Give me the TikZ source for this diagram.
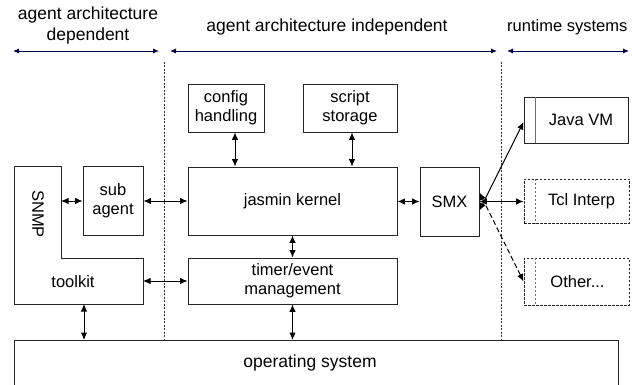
\documentclass[tikz,border=0pt]{standalone}
\usepackage{fontspec}
\setmainfont{Liberation Sans}
\usetikzlibrary{arrows.meta}
\begin{document}
\begin{tikzpicture}[x=1pt,y=-1pt,
  box/.style={draw=black!85,line width=0.9pt,inner sep=0pt,align=center,font=\fontsize{16.5}{19}\selectfont},
  dbox/.style={box,dash pattern=on 2.5pt off 1.5pt},
  lbl/.style={inner sep=0pt,align=center,font=\fontsize{17.5}{21}\selectfont},
  conn/.style={line width=1pt,{Latex[length=7.5pt,width=6.5pt]}-{Latex[length=7.5pt,width=6.5pt]}},
  sep/.style={line width=0.8pt,dash pattern=on 2pt off 1.5pt,black!80},
  hdr/.style={line width=0.9pt,draw=black!75!blue,{Latex[length=6pt,width=5pt]}-{Latex[length=6pt,width=5pt]}}]
\clip (0,0) rectangle (632,385);
\useasboundingbox (0,0) rectangle (632,385);
\fill[white] (0,0) rectangle (632,385);
% header
\node[lbl] (tdep) at (88,25) {agent architecture\\dependent};
\node[lbl] (tind) at (327,27) {agent architecture independent};
\node[lbl,anchor=west,font=\fontsize{16.5}{20}\selectfont] (trun) at (507,27) {runtime systems};
\coordinate (h1) at (13,51); \coordinate (h2) at (159,51);
\coordinate (h3) at (170,51); \coordinate (h4) at (497,51);
\coordinate (h5) at (507,51); \coordinate (h6) at (629,51);
\draw[hdr] (h1) -- (h2);
\draw[hdr] (h3) -- (h4);
\draw[hdr] (h5) -- (h6);
% separators
\coordinate (s1t) at (164.5,62); \coordinate (s1b) at (164.5,340);
\coordinate (s2t) at (501.5,62); \coordinate (s2b) at (501.5,340);
\draw[sep] (s1t) -- (s1b);
\draw[sep] (s2t) -- (s2b);
% boxes
\node[box,minimum width=76,minimum height=48] (cfg) at (226,108) {config\\handling};
\node[box,minimum width=94,minimum height=48] (scr) at (350,108) {script\\storage};
\node[box,minimum width=209,minimum height=68] (kern) at (292.5,201) {jasmin kernel};
\node[box,minimum width=209,minimum height=46] (timer) at (292.5,281) {timer/event\\management};
\node[box,minimum width=59,minimum height=69] (smx) at (449.5,201.5) {SMX};
\node[box,minimum width=60,minimum height=69] (sub) at (113,200.5) {sub\\agent};
\node[box,minimum width=104,minimum height=46] (java) at (576,120) {\hspace*{10pt}Java VM};
\node[dbox,minimum width=105,minimum height=44] (tcl) at (576.5,201) {\hspace*{10pt}Tcl Interp};
\node[dbox,minimum width=105,minimum height=47] (other) at (576.5,281.5) {\hspace*{2pt}Other...};
\draw[line width=0.9pt,black!50!blue!60] ([xshift=12pt]java.north west) -- ([xshift=12pt]java.south west);
\draw[line width=0.9pt,dash pattern=on 2.5pt off 1.5pt,black!50!blue!60] ([xshift=12pt]tcl.north west) -- ([xshift=12pt]tcl.south west);
\draw[line width=0.9pt,dash pattern=on 2.5pt off 1.5pt,black!50!blue!60] ([xshift=12pt]other.north west) -- ([xshift=12pt]other.south west);
\node[box,minimum width=604,minimum height=80,anchor=north west] (os) at (14,340) {};
\node[lbl] (ostext) at (310,363) {operating system};
% SNMP toolkit L-shape
\draw[line width=0.9pt,black!85] (14,166) -- (61,166) -- (61,258) -- (143,258) -- (143,304) -- (14,304) -- cycle;
\node[lbl,rotate=-90,font=\fontsize{16.5}{19}\selectfont] (snmp) at (38,214) {SNMP};
\node[lbl,font=\fontsize{16.5}{19}\selectfont] (tk) at (73,282) {toolkit};
\coordinate (snmpR) at (61,201);
\coordinate (tkR) at (143,281);
\coordinate (tkB) at (84,304);
% connectors
\draw[conn] (snmpR) -- (snmpR -| sub.west);
\draw[conn] (sub.east |- kern.west) -- (kern.west);
\draw[conn] (tkR) -- (tkR -| timer.west);
\draw[conn] (tkB) -- (tkB |- os.north);
\draw[conn] ([xshift=9pt]cfg.south) -- ([xshift=9pt]cfg.south |- kern.north);
\draw[conn] ([xshift=2pt]scr.south) -- ([xshift=2pt]scr.south |- kern.north);
\draw[conn] (kern.south) -- (timer.north);
\draw[conn] (timer.south) -- (timer.south |- os.north);
\draw[conn] (kern.east |- smx.west) -- (smx.west);
\draw[conn] ([yshift=-9pt]smx.east) -- ([yshift=-2pt]java.west);
\draw[conn] (smx.east) -- (smx.east -| tcl.west);
\draw[conn,dash pattern=on 5pt off 3pt] ([yshift=9pt]smx.east) -- (other.west);
\end{tikzpicture}
\end{document}
